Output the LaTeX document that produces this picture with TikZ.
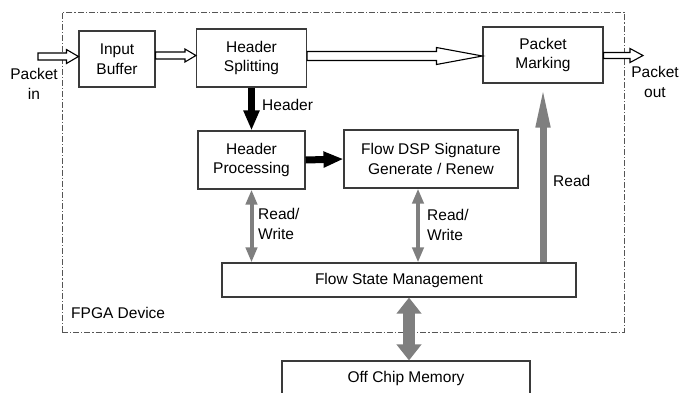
\documentclass[tikz,border=0pt]{standalone}
\usepackage{fontspec}
\setmainfont{Liberation Sans}
\usetikzlibrary{arrows.meta,calc}
\definecolor{boxline}{HTML}{3A3A3A}
\definecolor{garrow}{HTML}{7F7F7F}
\definecolor{fpgaline}{HTML}{555555}
\newcommand\hollowarrow[5]{%
  \draw[hollow] let \p1=(#1), \p2=(#2) in
    (\x1,\y1-#3) -- (\x2-#5,\y1-#3) -- (\x2-#5,\y1-#4) -- (\x2,\y1)
    -- (\x2-#5,\y1+#4) -- (\x2-#5,\y1+#3) -- (\x1,\y1+#3) -- cycle;}
\begin{document}
\begin{tikzpicture}[x=1pt,y=-1pt,
  font=\fontsize{15.5}{19.5}\selectfont,
  blk/.style={draw=boxline,line width=1.1pt,fill=white,align=center,inner sep=0pt},
  hollow/.style={draw=black,line width=1.1pt,fill=white,line join=miter},
  lbl/.style={align=left,inner sep=0pt,anchor=west},
  garr/.style={draw=garrow,line width=4pt},
  barr/.style={draw=black,line width=7pt,-{Triangle[length=20pt,width=15pt]}}]
\useasboundingbox (0,0) rectangle (682,392);
% FPGA boundary
\node[draw=fpgaline,line width=0.9pt,dash pattern=on 6pt off 2pt on 1.2pt off 2pt,
      minimum width=562pt,minimum height=320pt,inner sep=0pt] (fpga) at (343,172) {};
\node[lbl] (fpgalbl) at (71,313) {FPGA Device};
% blocks
\node[blk,minimum width=76pt,minimum height=56pt] (ib) at (117,59) {Input\\Buffer};
\node[blk,minimum width=110pt,minimum height=58pt] (hs) at (251.5,58) {Header\\Splitting};
\node[blk,minimum width=120pt,minimum height=56pt] (pm) at (543,55) {Packet\\Marking};
\node[blk,minimum width=107pt,minimum height=58pt] (hp) at (251.5,160) {Header\\Processing};
\node[blk,minimum width=174pt,minimum height=58pt] (dsp) at (431,159) {Flow DSP Signature\\Generate / Renew};
\node[blk,minimum width=354pt,minimum height=34pt] (fsm) at (399,280) {Flow State Management};
\node[blk,minimum width=248pt,minimum height=44pt,text depth=0pt] (ocm) at (406,383) {};
\node[inner sep=0pt] (ocmtxt) at (406,378) {Off Chip Memory};
% external texts
\node[align=center,inner sep=0pt] (pin) at (34,84) {Packet\\in};
\node[align=center,inner sep=0pt] (pout) at (655,82) {Packet\\out};
\coordinate (pinstart) at (38,56.5);
\coordinate (poutend) at (643,55.5);
% hollow data path arrows
\hollowarrow{pinstart}{ib.west |- pinstart}{3.5pt}{7pt}{12pt}
\hollowarrow{$(ib.east |- pinstart)+(0,-1)$}{$(hs.west |- pinstart)+(0,-1)$}{3.5pt}{6.5pt}{11pt}
\hollowarrow{$(hs.east |- pinstart)+(0,-0.5)$}{$(pm.west |- pinstart)+(0,-0.5)$}{4.5pt}{8.5pt}{46pt}
\hollowarrow{pm.east |- poutend}{poutend}{3pt}{7pt}{13pt}
% black header arrows
\draw[barr] (hs.south) -- (hp.north);
\draw[barr] (hp.east) -- (dsp.west);
\node[lbl] (hdrlbl) at (262,105) {Header};
% gray read/write arrows
\draw[garr,{Triangle[length=15pt,width=11pt]}-{Triangle[length=15pt,width=11pt]}]
  (hp.south) -- (hp.south |- fsm.north);
\draw[garr,{Triangle[length=15pt,width=11pt]}-{Triangle[length=15pt,width=11pt]}]
  ([xshift=-13pt]dsp.south) -- ([xshift=-13pt]dsp.south |- fsm.north);
\node[lbl] (rw1) at (258,224) {Read/\\Write};
\node[lbl] (rw2) at (427,225) {Read/\\Write};
% read arrow
\draw[draw=garrow,line width=7pt,-{Triangle[length=42pt,width=13pt]}]
  (pm.south |- fsm.north) -- ([yshift=-2pt]pm.south);
\node[lbl] (rdlbl) at (553,181) {Read};
% memory arrow
\draw[draw=garrow,line width=12pt,{Triangle[length=16pt,width=24pt]}-{Triangle[length=16pt,width=24pt]}]
  ([xshift=10pt]fsm.south) -- ([xshift=10pt]fsm.south |- ocm.north);
\end{tikzpicture}
\end{document}
